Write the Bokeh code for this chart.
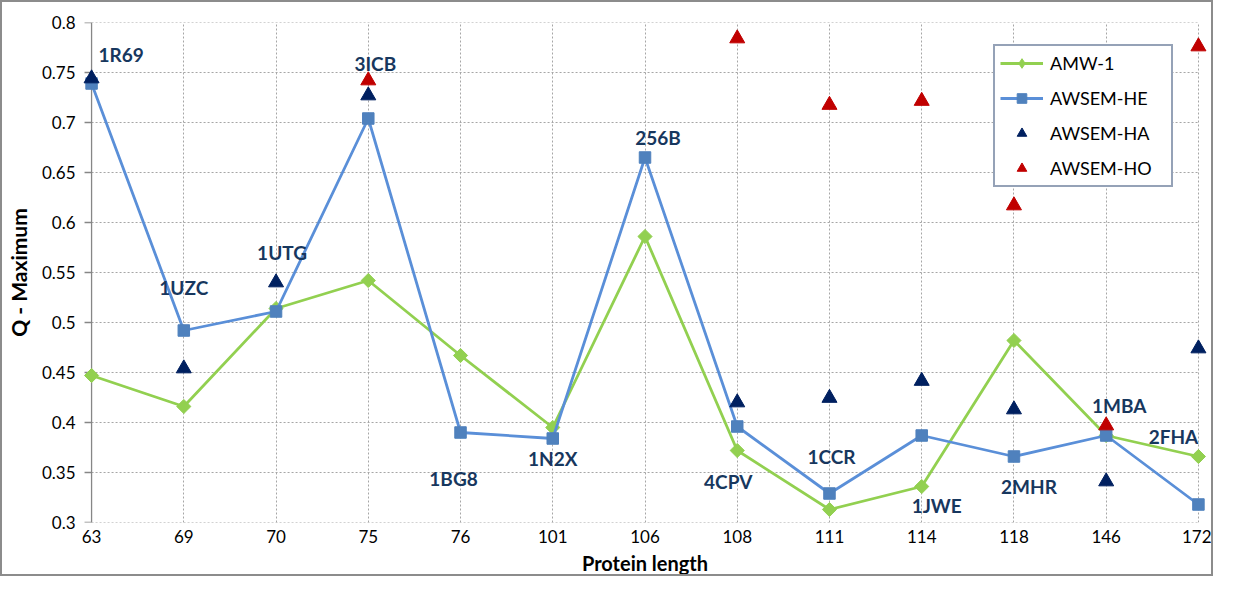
import math
from bokeh.plotting import figure
from bokeh.models import FixedTicker, Range1d, ColumnDataSource, Legend, LegendItem
from bokeh.embed import file_html
from bokeh.resources import INLINE
from bokeh.core.properties import value

NaN = float("nan")

# ---- data ----
lengths = ["63", "69", "70", "75", "76", "101", "106", "108", "111", "114", "118", "146", "172"]
proteins = ["1R69", "1UZC", "1UTG", "3ICB", "1BG8", "1N2X", "256B", "4CPV", "1CCR", "1JWE", "2MHR", "1MBA", "2FHA"]
amw1 = [0.447, 0.416, 0.514, 0.542, 0.467, 0.395, 0.586, 0.372, 0.313, 0.336, 0.482, 0.387, 0.366]
awsem_he = [0.739, 0.492, 0.511, 0.704, 0.390, 0.384, 0.665, 0.396, 0.329, 0.387, 0.366, 0.387, 0.318]
awsem_ha = [0.744, 0.454, 0.540, 0.727, NaN, NaN, NaN, 0.420, 0.4245, 0.4415, 0.413, 0.341, 0.474]
awsem_ho = [NaN, NaN, NaN, 0.742, NaN, NaN, NaN, 0.784, 0.7175, 0.7215, 0.617, 0.397, 0.776]
y_ticks = [0.3, 0.35, 0.4, 0.45, 0.5, 0.55, 0.6, 0.65, 0.7, 0.75, 0.8]
y_tick_labels = ["0.3", "0.35", "0.4", "0.45", "0.5", "0.55", "0.6", "0.65", "0.7", "0.75", "0.8"]

# label placement (pixel offsets from the AWSEM-HE point of each protein)
label_dx = [29.5, 0, 6, 7, -7, 0, 13, -9, 2, 15, 15, 13, -25]
label_dy = [-29, -43, -59, -55, 46, 20, -20, 55, -37, 70, 30, -30, -68]

idx = list(range(len(lengths)))
src = ColumnDataSource(dict(x=idx, amw1=amw1, he=awsem_he, ha=awsem_ha, ho=awsem_ho,
                            name=proteins, dx=label_dx, dy=label_dy))

FONT = value("Lato")
GREEN = "#92D050"
BLUE_LINE = "#5A8FD8"
BLUE_SQ = "#4F81BD"
NAVY = "#002060"
RED = "#C00000"
LABEL_C = "#17375E"
AXIS_C = "#868686"
GRID_C = "#A6A6A6"

PAD = 0.12
p = figure(width=1213, height=576,
           x_range=Range1d(idx[0] - PAD, idx[-1] + PAD),
           y_range=Range1d(y_ticks[0], y_ticks[-1]),
           output_backend="svg", toolbar_location=None,
           min_border_left=78, min_border_right=6, min_border_top=20, min_border_bottom=56)
p.styles = {"border": "2px solid #8c8c8c"}
p.outline_line_color = None
p.background_fill_color = "white"
p.border_fill_color = "white"

# grids
p.ygrid.grid_line_color = None
p.xgrid.ticker = FixedTicker(ticks=idx)
p.xgrid.grid_line_color = GRID_C
p.xgrid.grid_line_dash = "2 2"
p.xgrid.grid_line_width = 1
p.segment(x0=[idx[0]] * len(y_ticks), x1=[idx[-1]] * len(y_ticks), y0=y_ticks, y1=y_ticks,
          line_color=GRID_C, line_dash="2 2", line_width=1)

# value axis rule + ticks drawn at the first category
tick_len = 7 / 92.0
p.segment(x0=[idx[0]], x1=[idx[0]], y0=[y_ticks[0]], y1=[y_ticks[-1]],
          line_color=AXIS_C, line_width=1.3)
p.segment(x0=[idx[0] - tick_len] * len(y_ticks), x1=[idx[0]] * len(y_ticks),
          y0=y_ticks, y1=y_ticks, line_color=AXIS_C, line_width=1.3)

# axes
p.xaxis.ticker = FixedTicker(ticks=idx)
p.xaxis.major_label_overrides = {i: l for i, l in zip(idx, lengths)}
p.xaxis.axis_line_color = None
p.xaxis.major_tick_line_color = None
p.xaxis.minor_tick_line_color = None
p.xaxis.major_tick_out = 0
p.xaxis.major_tick_in = 0
p.xaxis.major_label_standoff = 7
p.xaxis.major_label_text_font = "Lato"
p.xaxis.major_label_text_font_size = "17px"
p.xaxis.major_label_text_color = "black"
p.xaxis.axis_label = "Protein length"
p.xaxis.axis_label_text_font = "Lato"
p.xaxis.axis_label_text_font_style = "bold"
p.xaxis.axis_label_text_font_size = "20px"
p.xaxis.axis_label_text_color = "black"
p.xaxis.axis_label_standoff = 5

p.yaxis.ticker = FixedTicker(ticks=y_ticks)
p.yaxis.major_label_overrides = dict(zip(y_ticks, y_tick_labels))
p.yaxis.axis_line_color = None
p.yaxis.major_tick_line_color = None
p.yaxis.minor_tick_line_color = None
p.yaxis.major_tick_out = 0
p.yaxis.major_tick_in = 0
p.yaxis.major_label_standoff = 5
p.yaxis.major_label_text_font = "Lato"
p.yaxis.major_label_text_font_size = "17px"
p.yaxis.major_label_text_color = "black"
p.yaxis.axis_label = "Q - Maximum"
p.yaxis.axis_label_text_font = "Lato"
p.yaxis.axis_label_text_font_style = "bold"
p.yaxis.axis_label_text_font_size = "21px"
p.yaxis.axis_label_text_color = "black"
p.yaxis.axis_label_standoff = 8

# series
l1 = p.line("x", "amw1", source=src, line_color=GREEN, line_width=2.8)
s1 = p.scatter("x", "amw1", source=src, marker="square", angle=math.pi / 4, size=10,
               fill_color=GREEN, line_color=GREEN)
s1_key = p.scatter("x", "amw1", source=src, marker="diamond", size=10,
                   fill_color=GREEN, line_color=GREEN, visible=False)
l2 = p.line("x", "he", source=src, line_color=BLUE_LINE, line_width=2.8)
s2 = p.scatter("x", "he", source=src, marker="square", size=11.5,
               fill_color=BLUE_SQ, line_color=BLUE_SQ)
s3 = p.scatter("x", "ha", source=src, marker="triangle", size=15,
               fill_color=NAVY, line_color=NAVY)
s4 = p.scatter("x", "ho", source=src, marker="triangle", size=15,
               fill_color=RED, line_color=RED)

p.text("x", "he", text="name", source=src, x_offset="dx", y_offset="dy",
       text_align="center", text_baseline="middle", text_font=FONT,
       text_font_style="bold", text_font_size="19px", text_color=LABEL_C)

legend = Legend(items=[LegendItem(label="AMW-1", renderers=[l1, s1_key]),
                       LegendItem(label="AWSEM-HE", renderers=[l2, s2]),
                       LegendItem(label="AWSEM-HA", renderers=[s3]),
                       LegendItem(label="AWSEM-HO", renderers=[s4])],
                location=(913, 335))
legend.border_line_color = "#2B4570"
legend.border_line_width = 2
legend.background_fill_color = "white"
legend.background_fill_alpha = 1
legend.label_text_font = "Lato"
legend.label_text_font_size = "18px"
legend.label_text_color = "black"
legend.glyph_width = 43
legend.glyph_height = 24
legend.label_height = 23
legend.spacing = 11
legend.padding = 5
legend.label_standoff = 7
legend.label_width = 116
legend.margin = 0
legend.inactive_fill_alpha = 0
p.add_layout(legend, "center")

open("out.html", "w").write(file_html(p, INLINE))
